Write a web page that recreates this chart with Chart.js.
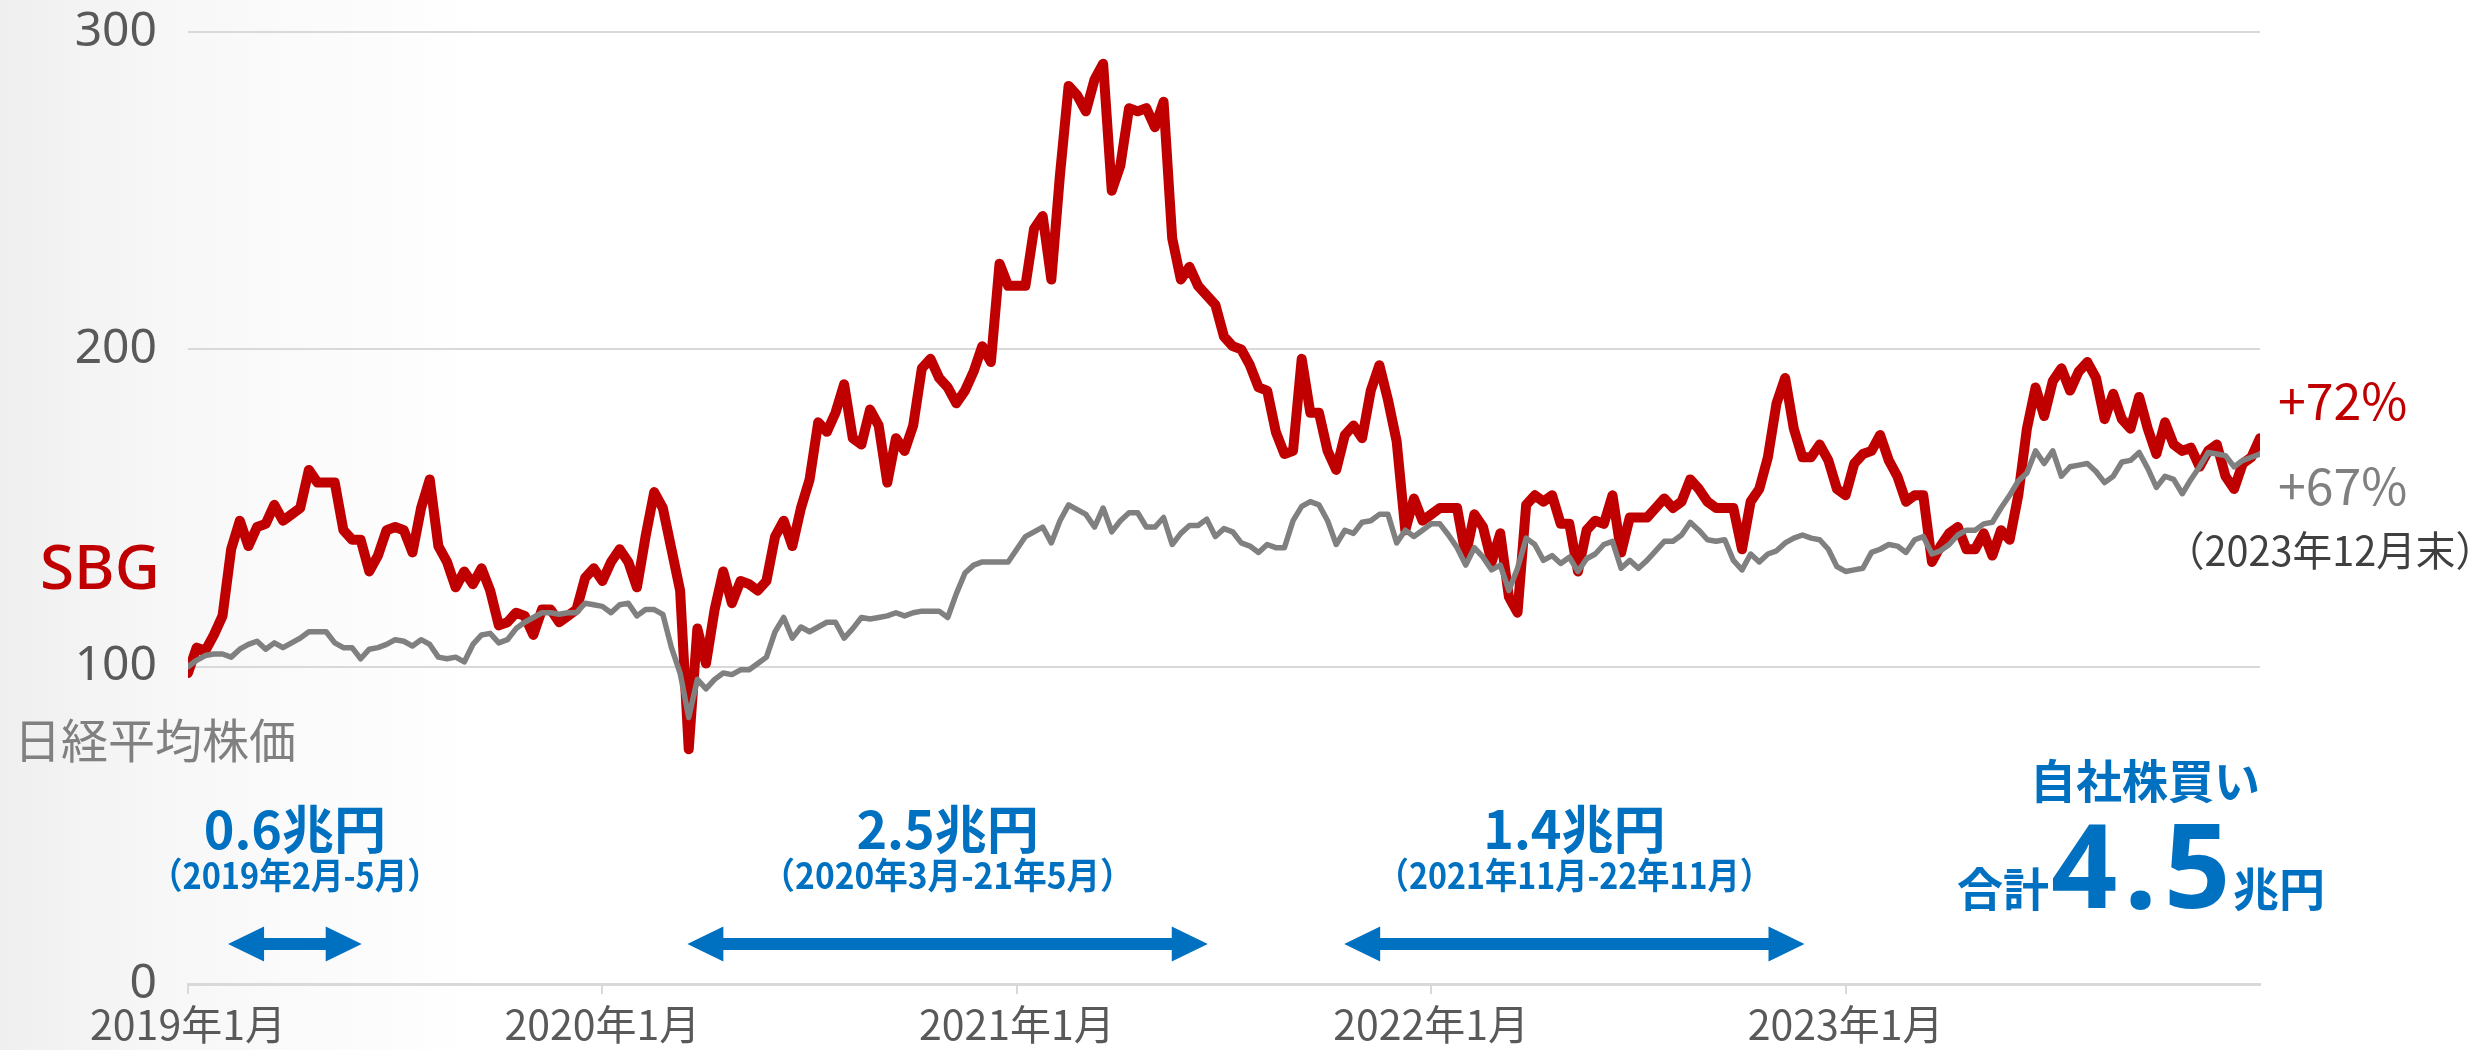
<!DOCTYPE html>
<html><head><meta charset="utf-8">
<script src="https://cdn.jsdelivr.net/npm/chart.js@4.4.1/dist/chart.umd.min.js"></script>
<style>
html,body{margin:0;padding:0;}
body{width:2488px;height:1050px;overflow:hidden;background:linear-gradient(to right,#efefef 0px,#f7f7f7 160px,#ffffff 480px);}
#wrap{position:absolute;left:0;top:0;width:2488px;height:1050px;}
</style></head><body><div id="wrap"><canvas id="c" width="2488" height="1050"></canvas></div>
<script>
// ---- data (months since 2019年1月, sampled every STEP months) ----
const STEP = 0.25;
const tickMonths = [0, 12, 24, 36, 48];
const tickLabels = ['2019年1月', '2020年1月', '2021年1月', '2022年1月', '2023年1月'];

const sbg = [
 98,106,105,110,116,137,146,138,144,145,151,146,148,150,162,158,158,158,143,140,140,130,135,143,144,143,136,150,159,138,133,125,130,126,131,124,113,114,117,116,110,118,118,114,116,118,128,131,127,
 133,137,133,125,141,155,150,137,124,74,112,101,118,130,120,127,126,124,127,141,146,138,150,159,177,174,180,189,172,170,181,176,158,172,168,176,194,197,191,188,183,187,193,201,196,227,220,220,
 220,238,242,222,255,283,280,275,285,290,250,258,276,275,276,270,278,235,222,226,220,217,214,204,201,200,195,188,187,174,167,168,197,180,180,168,162,173,176,172,187,195,184,171,143,153,146,148,
 150,150,150,135,148,144,133,142,122,117,151,154,152,154,145,145,130,143,146,145,154,136,147,147,147,150,153,150,152,159,156,152,150,150,150,137,152,156,166,183,191,175,166,166,170,165,156,154,
 164,167,168,173,165,160,152,154,154,133,138,142,144,137,137,142,135,143,140,154,175,188,179,190,194,187,193,196,191,178,186,178,175,185,175,167,177,170,168,169,163,168,170,160,156,164,166,172
];
const nikkei = [
 100,102,103.5,104,104,103,105.5,107,108,105.5,107.5,106,107.5,109,111,111,111,107.5,106,106,102.5,105.5,106,107,108.5,108,106.5,108.5,107,103,102.5,103,101.5,107,110,110.5,107.5,108.5,112,114,115.5,117,117,116.5,117,117,120,119.5,119,
 117,119.5,120,116,118,118,116.5,106,98,84,96,93,96,98,97.5,99,99,101,103,111,115.5,109,112.5,111,112.5,114,114,109,112,115.5,115,115.5,116,117,116,117,117.5,117.5,117.5,115.5,123,129.5,132,133,133,133,133,137,
 141,142.5,144,139,146,151,149.5,148,144,150,142.5,146,148.5,148.5,144,144,147,138.5,142,144.5,144.5,146.5,141,143.5,142.5,139,138,136,138.5,137.5,137.5,146,150.5,152,151,146,138.5,143,142,145.5,146,148,148,139,143,141,143,145,
 145,141.5,137.5,132,137.5,134.5,130.5,132,124,131,140.5,138.5,133.5,135,132.5,134.5,130,134,135.5,138.5,139.5,131,133.5,131,133.5,136.5,139.5,139.5,141.5,145.5,143,140,139.5,140,133.5,130.5,135.5,133,135.5,136.5,139,140.5,141.5,140.5,140,137,131.5,130,
 130.5,131,136,137,138.5,138,136,140,141,135.5,136.5,138.5,141.5,143,143,145,145.5,150,154,158.5,161,168,164,168,160,163,163.5,164,161.5,158,160,164.5,165,167.5,162.5,156.5,160,159,154.5,159,163,167.5,167,166.5,163,165,166,167
];

// 自社株買い periods (months since 2019年1月)
const buybackStart = [1.16, 14.46, 33.48];
const buybackEnd = [5.03, 29.53, 46.81];
const buybackAmount = ['0.6兆円', '2.5兆円', '1.4兆円'];
const buybackPeriod = ['（2019年2月-5月）', '（2020年3月-21年5月）', '（2021年11月-22年11月）'];
const sbgChange = '+72%';
const nikkeiChange = '+67%';

const JP = "'Noto Sans CJK JP','Noto Sans',sans-serif";
const RED = '#c00000', GRAY = '#808080', BLUE = '#0070c0';
Chart.defaults.font.family = JP;

function txt(ctx, s, x, y, size, weight, color, align, maxW, fam, spacing) {
  ctx.font = weight + ' ' + size + 'px ' + (fam || JP);
  ctx.fillStyle = color;
  ctx.textAlign = align || 'left';
  ctx.textBaseline = 'alphabetic';
  ctx.letterSpacing = spacing || '0px';
  if (maxW) ctx.fillText(s, x, y, maxW); else ctx.fillText(s, x, y);
  ctx.letterSpacing = '0px';
}
function arrow(ctx, x1, x2, y) {
  const L = 36, H = 17.5, T = 6;
  ctx.beginPath();
  ctx.moveTo(x1, y);
  ctx.lineTo(x1 + L, y - H); ctx.lineTo(x1 + L, y - T);
  ctx.lineTo(x2 - L, y - T); ctx.lineTo(x2 - L, y - H);
  ctx.lineTo(x2, y);
  ctx.lineTo(x2 - L, y + H); ctx.lineTo(x2 - L, y + T);
  ctx.lineTo(x1 + L, y + T); ctx.lineTo(x1 + L, y + H);
  ctx.closePath();
  ctx.fillStyle = BLUE; ctx.fill();
}

const periodMaxW = [290, 372, 395];
const annot = {
  id: 'annot',
  afterDraw(chart) {
    const ctx = chart.ctx, xs = chart.scales.x;
    ctx.save();
    for (let i = 0; i < buybackStart.length; i++) {
      const x1 = xs.getPixelForValue(buybackStart[i]);
      const x2 = xs.getPixelForValue(buybackEnd[i]);
      arrow(ctx, x1, x2, 944);
      const cx = (x1 + x2) / 2;
      txt(ctx, buybackAmount[i], cx, 849, 52, 'bold', BLUE, 'center');
      txt(ctx, buybackPeriod[i], cx, 889, 36, 'bold', BLUE, 'center', periodMaxW[i]);
    }
    txt(ctx, '自社株買い', 2145, 798, 46, 'bold', BLUE, 'center');
    txt(ctx, '合計', 1957, 906, 46, 'bold', BLUE, 'left');
    txt(ctx, '4.5', 2051, 908, 116, 'bold', BLUE, 'left', null, "'Noto Sans',sans-serif", '7px');
    txt(ctx, '兆円', 2233, 906, 46, 'bold', BLUE, 'left');

    txt(ctx, 'SBG', 40, 589, 62, '500', RED, 'left', null, "'Noto Sans',sans-serif");
    txt(ctx, '日経平均株価', 14, 758, 47, 'normal', GRAY, 'left');
    txt(ctx, sbgChange, 2278, 420, 50, 'normal', RED, 'left');
    txt(ctx, nikkeiChange, 2278, 505, 50, 'normal', GRAY, 'left');
    txt(ctx, '（2023年12月末）', 2330, 566, 41, 'normal', '#404040', 'center', 330);
    ctx.restore();
  }
};

const toPts = arr => arr.map((v, i) => ({ x: i * STEP, y: v }));

new Chart(document.getElementById('c'), {
  type: 'line',
  data: {
    datasets: [
      { label: '日経平均株価', data: toPts(nikkei), borderColor: GRAY, borderWidth: 5.5, pointRadius: 0, tension: 0, borderJoinStyle: 'round', borderCapStyle: 'round' },
      { label: 'SBG', data: toPts(sbg), borderColor: RED, borderWidth: 10, pointRadius: 0, tension: 0, borderJoinStyle: 'round', borderCapStyle: 'round' }
    ]
  },
  options: {
    responsive: false, animation: false, devicePixelRatio: 1,
    layout: { padding: { left: 0, right: 228, top: 32, bottom: 0 } },
    plugins: { legend: { display: false }, tooltip: { enabled: false } },
    scales: {
      x: {
        type: 'linear', min: 0, max: 60,
        afterBuildTicks: s => { s.ticks = tickMonths.map(v => ({ value: v })); },
        afterFit: s => { s.height = 66; s.paddingLeft = 0; s.paddingRight = 0; },
        ticks: { callback: v => tickLabels[tickMonths.indexOf(v)], font: { size: 41 }, color: '#595959', padding: 6, maxRotation: 0, autoSkip: false },
        grid: { drawOnChartArea: false, drawTicks: true, tickLength: 10, color: '#d9d9d9', lineWidth: 2 },
        border: { display: true, color: '#d9d9d9', width: 3 }
      },
      y: {
        min: 0, max: 300,
        afterFit: s => { s.width = 188; s.paddingTop = 0; s.paddingBottom = 0; },
        ticks: { stepSize: 100, font: { size: 48, family: "'Noto Sans',sans-serif" }, color: '#595959', padding: 31 },
        grid: { color: '#d9d9d9', lineWidth: 2, drawTicks: false },
        border: { display: false }
      }
    }
  },
  plugins: [annot]
});
</script></body></html>
